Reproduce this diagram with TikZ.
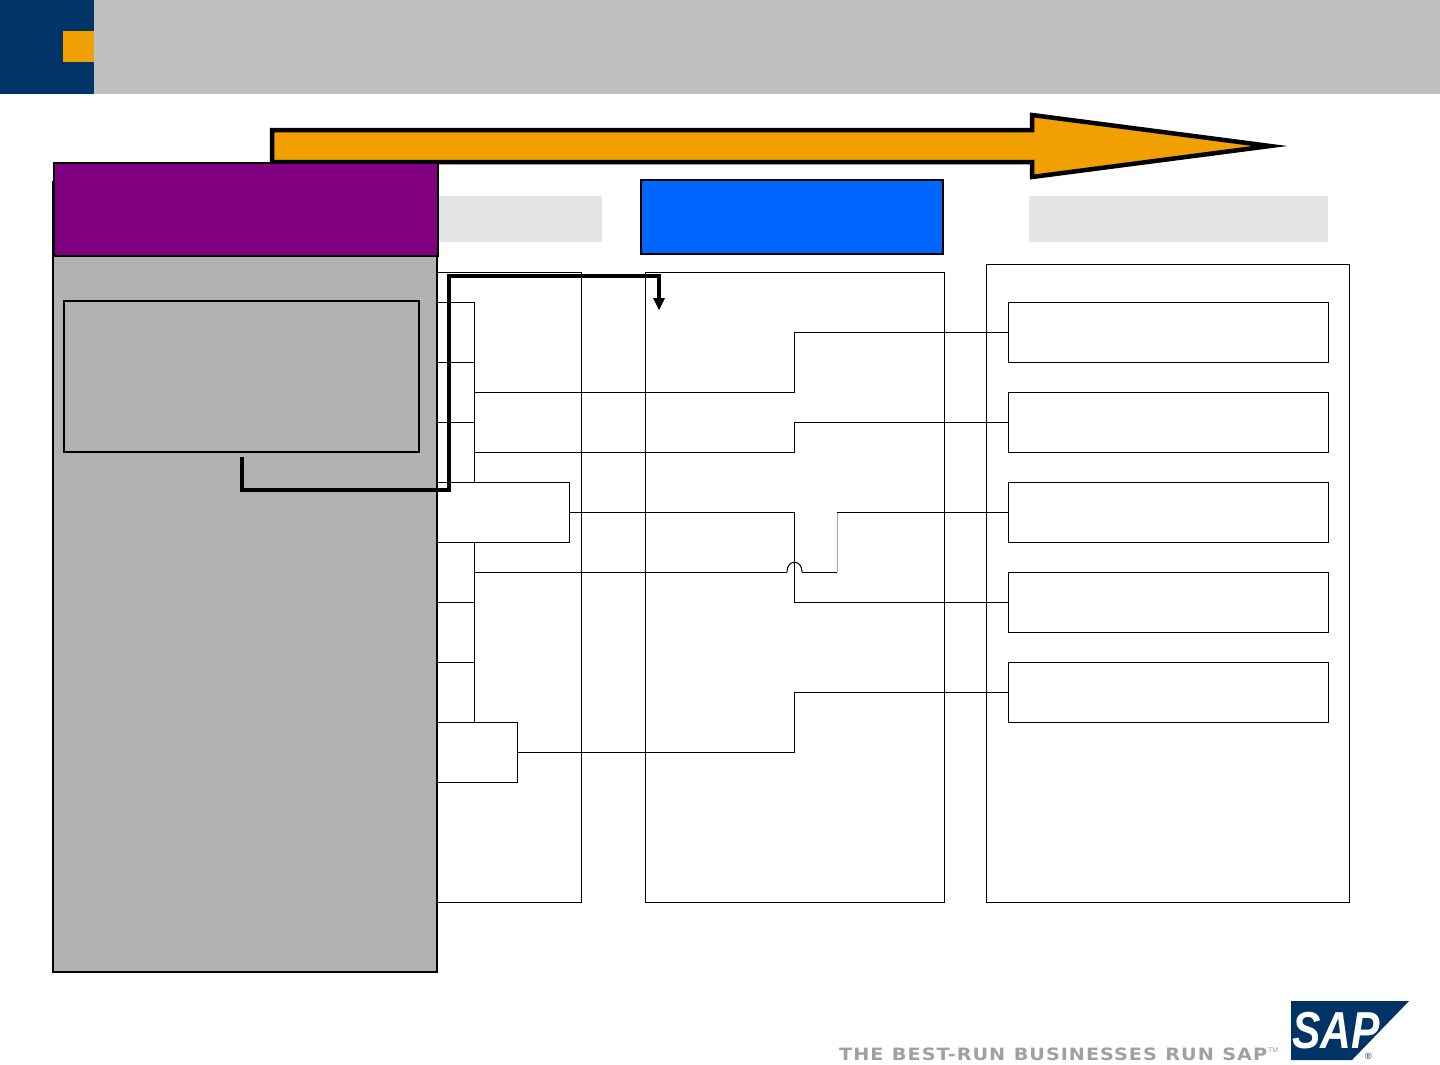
\documentclass[tikz,border=0pt]{standalone}
\usepackage{fontspec}
\setmainfont{Liberation Sans}
\newfontfamily\slogfont[LetterSpace=5,WordSpace=1.1]{DejaVu Sans}
\definecolor{navy}{HTML}{003366}
\definecolor{sapor}{HTML}{F0A000}
\definecolor{hdr}{HTML}{BFBFBF}
\definecolor{pale}{HTML}{E5E5E5}
\definecolor{panel}{HTML}{B2B2B2}
\definecolor{plum}{HTML}{800080}
\definecolor{azure}{HTML}{0066FF}
\definecolor{slog}{HTML}{A0A0A0}
\newcommand{\bx}[6]{%
  \path let \n1={#4-#2},\n2={#5-#3} in
  node[#6,minimum width=\n1*1pt,minimum height=\n2*1pt] (#1) at ({(#2+#4)/2},{(#3+#5)/2}) {};}
\usetikzlibrary{calc,arrows.meta}
\tikzset{
  x=1pt,y=-1pt,
  plainbox/.style={rectangle,draw=black,line width=1pt,fill=white,inner sep=0pt,outer sep=0pt},
  flat/.style={rectangle,draw=none,inner sep=0pt,outer sep=0pt},
  heavybox/.style={rectangle,draw=black,line width=2pt,inner sep=0pt,outer sep=0pt},
  link/.style={draw=black,line width=1pt},
  thickroute/.style={draw=black,line width=4.5pt,miter limit=10},
}
\begin{document}
\begin{tikzpicture}
\useasboundingbox (0,0) rectangle (1440,1065);
% header
\bx{hbar}{94}{0}{1440}{94}{flat,fill=hdr}
\bx{hnavy}{0}{0}{94}{94}{flat,fill=navy}
\bx{horange}{63}{31}{94}{62}{flat,fill=sapor}
% big arrow
\draw[line width=4.5pt,fill=sapor,miter limit=10] (272,130) -- (1032,130) -- (1032,115) -- (1270,146) -- (1032,177) -- (1032,162) -- (272,162) -- cycle;
% column headers
\bx{hleft}{400}{196}{602}{242}{flat,fill=pale}
\bx{hright}{1029}{196}{1328}{242}{flat,fill=pale}
\bx{hmid}{641}{180}{943}{254}{heavybox,fill=azure}
% columns
\bx{colA}{300}{272}{581}{902}{plainbox}
\bx{colB}{645}{272}{944}{902}{plainbox}
\bx{colC}{986}{264}{1349}{902}{plainbox}
% left boxes
\bx{a1}{300}{302}{474}{362}{plainbox}
\bx{a2}{300}{362}{474}{422}{plainbox}
\bx{a3}{300}{422}{474}{482}{plainbox}
\bx{a5}{300}{542}{474}{602}{plainbox}
\bx{a6}{300}{602}{474}{662}{plainbox}
\bx{a7}{300}{662}{474}{722}{plainbox}
\bx{a4}{300}{482}{569}{542}{plainbox}
\bx{a8}{300}{722}{517}{782}{plainbox}
% right boxes
\bx{c1}{1008}{302}{1328}{362}{plainbox}
\bx{c2}{1008}{392}{1328}{452}{plainbox}
\bx{c3}{1008}{482}{1328}{542}{plainbox}
\bx{c4}{1008}{572}{1328}{632}{plainbox}
\bx{c5}{1008}{662}{1328}{722}{plainbox}
% connectors
\coordinate (a2j) at (474,392);
\coordinate (a3j) at (474,452);
\coordinate (a5j) at (474,572);
\draw[link] (a2j) -- (794,392) -- (794,332) -- (c1.west);
\draw[link] (a3j) -- (794,452) -- (794,422) -- (c2.west);
\draw[link] (a4.east) -- (794,512) -- (794,602) -- (c4.west);
\draw[link] (a8.east) -- (794,752) -- (794,692) -- (c5.west);
\draw[link] (a5j) -- (787,572);
\draw[link] (787,572) .. controls (787,559) and (802,559) .. (802,572);
\draw[link] (802,572) -- (837,572);
\draw[draw=black!35,line width=1pt] (837,572) -- (837,512);
\draw[link] (837,512) -- (c3.west);
% left panel
\bx{panelL}{53}{182}{437}{972}{heavybox,fill=panel}
\bx{purple}{54}{163}{438}{256}{heavybox,fill=plum}
\bx{inner}{64}{301}{419}{452}{heavybox,fill=panel}
% thick routed arrow
\coordinate (tgt) at (659,310);
\coordinate (src) at (242,457);
\draw[thickroute] (src) -- (242,490) -- (449,490) -- (449,276) -- (659,276) -- (659,300);
\fill[black] (653,298) -- (665,298) -- (tgt) -- cycle;
% logo
\fill[navy] (1291,1001) -- (1409,1001) -- (1352,1060) -- (1291,1060) -- cycle;
\node[inner sep=0pt,anchor=base west,text=white,text depth=0pt,font=\bfseries\itshape\fontsize{52}{52}\selectfont,xscale=.82] (saptxt) at (1292,1048) {SAP};
\node[inner sep=0pt,text=navy,font=\fontsize{9}{9}\selectfont] (reg) at (1368.5,1056.5) {®};
\node[inner sep=0pt,anchor=base west,text=slog,font=\slogfont\bfseries\fontsize{17}{17}\selectfont,xscale=1.133] (slogan) at (839,1060) {THE BEST-RUN BUSINESSES RUN SAP};
\node[inner sep=0pt,anchor=base west,text=slog,font=\fontsize{7}{7}\selectfont] (tm) at (1268,1052) {TM};
\end{tikzpicture}
\end{document}
